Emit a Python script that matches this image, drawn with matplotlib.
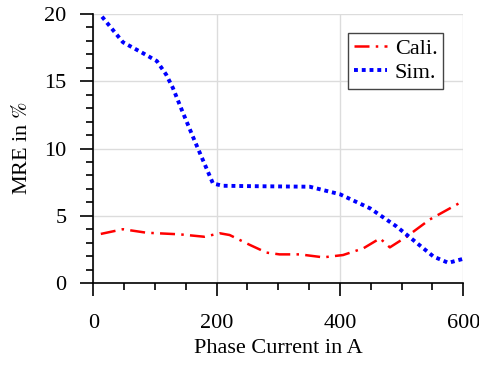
import matplotlib
matplotlib.use("Agg")
import matplotlib.pyplot as plt
from matplotlib.ticker import MultipleLocator

plt.rcParams["font.family"] = ["Liberation Serif", "DejaVu Serif"]
plt.rcParams["mathtext.fontset"] = "stix"

# Calibrated model error
cali_x = [12, 48, 86, 140, 180, 205, 221, 254, 281, 302, 335, 373, 405, 438, 465, 481, 508, 546, 600]
cali_y = [3.65, 4.0, 3.74, 3.62, 3.44, 3.7, 3.57, 2.83, 2.26, 2.13, 2.13, 1.91, 2.08, 2.58, 3.32, 2.65, 3.44, 4.73, 6.1]

# Simulation error
sim_x = [14, 48, 80, 103, 118, 129, 144, 164, 194, 210, 260, 351, 400, 449, 492, 552, 576, 600]
sim_y = [19.8, 17.9, 17.1, 16.5, 15.5, 14.5, 12.8, 10.6, 7.4, 7.23, 7.2, 7.16, 6.6, 5.55, 4.2, 1.96, 1.5, 1.8]

fig = plt.figure(figsize=(4.79, 3.69), dpi=100)
ax = fig.add_axes([0.195, 0.233, 0.772, 0.729])

ax.plot(cali_x, cali_y, color="red", linestyle=(0, (6, 2.5, 1, 2.5)), linewidth=1.8, label="Cali.")
ax.plot(sim_x, sim_y, color="blue", linestyle=(0, (1, 1)), linewidth=2.8, label="Sim.")

ax.set_xlim(0, 600)
ax.set_ylim(0, 20)
ax.xaxis.set_major_locator(MultipleLocator(200))
ax.xaxis.set_minor_locator(MultipleLocator(50))
ax.yaxis.set_major_locator(MultipleLocator(5))
ax.yaxis.set_minor_locator(MultipleLocator(1))
ax.grid(True, which="major", color="#dcdcdc", linewidth=1.0)
ax.set_axisbelow(True)

for s in ["top", "right"]:
    ax.spines[s].set_visible(False)
for s in ["left", "bottom"]:
    ax.spines[s].set_linewidth(1.2)
ax.tick_params(which="major", direction="out", length=9.5, width=1.2, labelsize=16)
ax.tick_params(axis="y", which="major", pad=10)
ax.tick_params(axis="x", which="major", pad=13)
ax.tick_params(which="minor", direction="out", length=5, width=1.2)

ax.set_xlabel("Phase Current in A", fontsize=16, labelpad=4)
ax.set_ylabel("MRE in $\\%$", fontsize=16, labelpad=9)

leg = ax.legend(loc="upper right", bbox_to_anchor=(0.946, 0.929), fontsize=16, frameon=True,
                fancybox=False, handlelength=1.5, handletextpad=0.35, borderpad=0.25,
                borderaxespad=0, labelspacing=0.15)
leg.get_frame().set_edgecolor("#444444")
leg.get_frame().set_linewidth(1.0)
leg.get_frame().set_alpha(1.0)

fig.savefig("out.png", dpi=100)
